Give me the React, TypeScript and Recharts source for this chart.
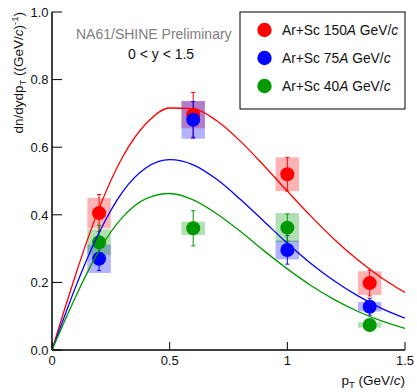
import React from "react";
import { ComposedChart, Scatter, Line, XAxis, YAxis, ErrorBar } from "recharts";

// ─── data ────────────────────────────────────────────────────────────────────
const pt = [0.2, 0.6, 1.0, 1.35];

const ar150 = [0.405, 0.696, 0.52, 0.198];
const ar150Stat = [0.055, 0.066, 0.05, 0.038];
const ar150Sys = [0.045, 0.04, 0.05, 0.035];

const ar75 = [0.27, 0.681, 0.296, 0.128];
const ar75Stat = [0.035, 0.054, 0.042, 0.025];
const ar75Sys = [0.042, 0.056, 0.028, 0.014];

const ar40 = [0.319, 0.36, 0.362, 0.074];
const ar40Stat = [0.05, 0.052, 0.04, 0.015];
const ar40Sys = [0.038, 0.02, 0.043, 0.008];

// fitted curves
const curvePt = [0, 0.05, 0.1, 0.15, 0.2, 0.3, 0.4, 0.5, 0.6, 0.7, 0.8, 0.9, 1.0, 1.1, 1.2, 1.3, 1.4, 1.5];
const fit150 = [0, 0.113, 0.222, 0.325, 0.419, 0.571, 0.67, 0.716, 0.714, 0.678, 0.618, 0.546, 0.47, 0.396, 0.327, 0.266, 0.214, 0.17];
const fit75 = [0, 0.094, 0.186, 0.271, 0.347, 0.468, 0.539, 0.563, 0.548, 0.505, 0.446, 0.381, 0.316, 0.256, 0.204, 0.16, 0.123, 0.094];
const fit40 = [0, 0.08, 0.157, 0.229, 0.294, 0.393, 0.448, 0.463, 0.444, 0.403, 0.351, 0.294, 0.24, 0.191, 0.149, 0.114, 0.086, 0.064];

const xTicks = [0, 0.5, 1, 1.5];
const yTicks = [0, 0.2, 0.4, 0.6, 0.8, 1.0];

const legendLabels = ["150", "75", "40"];

// ─── helpers ─────────────────────────────────────────────────────────────────
const FONT = "'Liberation Sans', Arial, Helvetica, sans-serif";
const RED = "#ff0000";
const BLUE = "#0000ff";
const GREEN = "#009900";

const points = (y: number[], stat: number[], sys: number[]) =>
    pt.map((p, i) => ({ pt: p, y: y[i], stat: stat[i], sys: sys[i] }));
const curve = (v: number[]) => curvePt.map((p, i) => ({ pt: p, v: v[i] }));

const d150 = points(ar150, ar150Stat, ar150Sys);
const d75 = points(ar75, ar75Stat, ar75Sys);
const d40 = points(ar40, ar40Stat, ar40Sys);

function XTick({ x, y, payload }: any) {
    const v = payload.value;
    return (
        <g>
            <line x1={x} x2={x} y1={y} y2={y - 8} stroke="#000" strokeWidth={1} />
            <text x={x} y={y + 14.5} textAnchor="middle" fontSize={13} fontFamily={FONT} fill="#111">
                {String(v)}
            </text>
        </g>
    );
}

function YTick({ x, y, payload }: any) {
    return (
        <g>
            <line x1={x} x2={x + 10} y1={y} y2={y} stroke="#000" strokeWidth={1} />
            <text x={x - 3.5} y={y + 4.7} textAnchor="end" fontSize={13} fontFamily={FONT} fill="#111">
                {Number(payload.value).toFixed(1)}
            </text>
        </g>
    );
}

const dot = (color: string) => (props: any) =>
    <circle cx={props.cx} cy={props.cy} r={7} fill={color} />;

function Series({ data, color, box }: { data: any[]; color: string; box: string }) {
    return (
        <Scatter data={data} dataKey="y" shape={dot(color)} isAnimationActive={false}>
            <ErrorBar dataKey="sys" direction="y" width={0} stroke={box} strokeWidth={23.5} isAnimationActive={false} />
            <ErrorBar dataKey="stat" direction="y" width={2} stroke={color} strokeWidth={1} isAnimationActive={false} />
        </Scatter>
    );
}

export default function App() {
    const colors = [RED, BLUE, GREEN];
    return (
        <div style={{ position: "absolute", left: 0, top: 0, width: 417, height: 392, background: "#fff", fontFamily: FONT }}>
            <ComposedChart width={417} height={392} margin={{ top: 12, right: 12, left: 0, bottom: 0 }}>
                <XAxis
                    type="number"
                    dataKey="pt"
                    domain={[0, 1.5]}
                    ticks={xTicks}
                    interval={0}
                    allowDataOverflow
                    height={42}
                    tickSize={0}
                    tickMargin={0}
                    tickLine={false}
                    tick={<XTick />}
                    axisLine={{ stroke: "#000", strokeWidth: 1.5 }}
                />
                <XAxis xAxisId="top" orientation="top" type="number" domain={[0, 1.5]} height={0} tick={false} tickLine={false} axisLine={{ stroke: "#000", strokeWidth: 1.5 }} />
                <YAxis
                    type="number"
                    domain={[0, 1]}
                    ticks={yTicks}
                    interval={0}
                    allowDataOverflow
                    width={52}
                    tickSize={0}
                    tickMargin={0}
                    tickLine={false}
                    tick={<YTick />}
                    axisLine={{ stroke: "#000", strokeWidth: 1.5 }}
                />
                <YAxis yAxisId="right" orientation="right" type="number" domain={[0, 1]} width={0} tick={false} tickLine={false} axisLine={{ stroke: "#000", strokeWidth: 1.5 }} />

                <Series data={d150} color={RED} box="rgba(255,0,0,0.3)" />
                <Series data={d75} color={BLUE} box="rgba(0,0,255,0.3)" />
                <Series data={d40} color={GREEN} box="rgba(0,153,0,0.3)" />

                <Line data={curve(fit150)} dataKey="v" type="monotone" stroke={RED} strokeWidth={1.3} dot={false} activeDot={false} isAnimationActive={false} zIndex={700} />
                <Line data={curve(fit75)} dataKey="v" type="monotone" stroke={BLUE} strokeWidth={1.3} dot={false} activeDot={false} isAnimationActive={false} zIndex={700} />
                <Line data={curve(fit40)} dataKey="v" type="monotone" stroke={GREEN} strokeWidth={1.3} dot={false} activeDot={false} isAnimationActive={false} zIndex={700} />
            </ComposedChart>

            <svg width={417} height={392} style={{ position: "absolute", left: 0, top: 0, pointerEvents: "none" }} fontFamily={FONT}>
                {/* legend box */}
                <rect x={240} y={12} width={165} height={97} fill="#fff" stroke="#000" strokeWidth={1} />
                {legendLabels.map((lab, i) => (
                    <g key={lab}>
                        <circle cx={264.5} cy={30 + i * 28} r={7.2} fill={colors[i]} />
                        <text x={282} y={35 + i * 28} fontSize={13.8} fill="#111">
                            Ar+Sc {lab}
                            <tspan fontStyle="italic">A</tspan> GeV/<tspan fontStyle="italic">c</tspan>
                        </text>
                    </g>
                ))}

                <text x={76} y={39} fontSize={14} fill="#808080">NA61/SHINE Preliminary</text>
                <text x={128} y={59} fontSize={14} fill="#111">0 &lt; y &lt; 1.5</text>

                {/* y axis title */}
                <text transform="translate(22.5,12) rotate(-90)" textAnchor="end" fontSize={13.5} fill="#111">
                    dn/dydp<tspan fontSize={9.5} dy={3}>T</tspan>
                    <tspan dy={-3}> ((GeV/</tspan>
                    <tspan fontStyle="italic">c</tspan>
                    <tspan>)</tspan>
                    <tspan fontSize={9.5} dy={-5}>-1</tspan>
                    <tspan dy={5}>)</tspan>
                </text>

                {/* x axis title */}
                <text x={405} y={385} textAnchor="end" fontSize={13.5} fill="#111">
                    p<tspan fontSize={9.5} dy={3}>T</tspan>
                    <tspan dy={-3}> (GeV/</tspan>
                    <tspan fontStyle="italic">c</tspan>
                    <tspan>)</tspan>
                </text>
            </svg>
        </div>
    );
}
